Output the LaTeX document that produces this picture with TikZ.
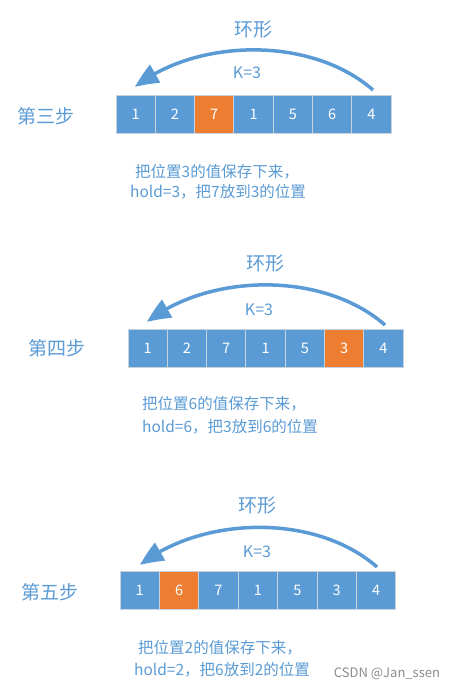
\documentclass[tikz,border=0pt]{standalone}
\usepackage{fontspec}
\setmainfont{Noto Sans CJK SC}
\usetikzlibrary{arrows.meta,bending}
\definecolor{cb}{HTML}{5B9BD5}
\definecolor{co}{HTML}{ED7D31}
\definecolor{tb}{HTML}{5B9BD5}
\definecolor{cellline}{HTML}{C8D2DC}
\definecolor{wm}{HTML}{8C8C8C}
\tikzset{
  cell/.style={draw=cellline, line width=0.9pt, minimum width=39.3pt, minimum height=38pt, inner sep=0pt, text=white, font=\fontsize{14.5pt}{17pt}\selectfont},
  steplabel/.style={text=tb, inner sep=0pt, font=\fontsize{19pt}{22pt}\selectfont},
  ringlabel/.style={text=tb, inner sep=0pt, font=\fontsize{19pt}{22pt}\selectfont},
  klabel/.style={text=tb, inner sep=0pt, font=\fontsize{16pt}{19pt}\selectfont},
  caption/.style={text=tb, inner sep=0pt, font=\fontsize{15.5pt}{18pt}\selectfont},
  ringarrow/.style={draw=cb, line width=3.5pt, -{Triangle[length=24pt,width=20pt,bend]}},
  watermark/.style={text=wm, inner sep=0pt, font=\fontsize{13pt}{15pt}\selectfont}
}
\begin{document}
\begin{tikzpicture}[x=1pt,y=-1pt]
\fill[white] (0,0) rectangle (457,690);
\useasboundingbox (0,0) rectangle (457,690);

% ---------- step 3 ----------
\node[steplabel] (l3) at (46,116) {第三步};
\node[ringlabel] (r3) at (253,29) {环形};
\node[klabel] (k3) at (247,73) {K=3};
\foreach \v/\c [count=\i] in {1/cb,2/cb,7/co,1/cb,5/cb,6/cb,4/cb}
  \node[cell, fill=\c] (a\i) at ({116+39.3*\i-19.65},114) {\v};
\coordinate (s3) at (373,90);
\coordinate (t3) at (135,87);
\draw[ringarrow] (s3) .. controls +(-63,-55) and +(60,-48) .. (t3);
\node[caption] (p3a) at (217,172) {把位置3的值保存下来，};
\node[caption] (p3b) at (218,192) {hold=3，把7放到3的位置};

% ---------- step 4 ----------
\node[steplabel] (l4) at (57,348) {第四步};
\node[ringlabel] (r4) at (265,263) {环形};
\node[klabel] (k4) at (259,310) {K=3};
\foreach \v/\c [count=\i] in {1/cb,2/cb,7/cb,1/cb,5/cb,3/co,4/cb}
  \node[cell, fill=\c] (b\i) at ({128+39.3*\i-19.65},348.5) {\v};
\coordinate (s4) at (385,325);
\coordinate (t4) at (147,322);
\draw[ringarrow] (s4) .. controls +(-63,-55) and +(60,-48) .. (t4);
\node[caption] (p4a) at (224,404) {把位置6的值保存下来，};
\node[caption] (p4b) at (230,427) {hold=6，把3放到6的位置};

% ---------- step 5 ----------
\node[steplabel] (l5) at (50,592) {第五步};
\node[ringlabel] (r5) at (257,505) {环形};
\node[klabel] (k5) at (257,552) {K=3};
\foreach \v/\c [count=\i] in {1/cb,6/co,7/cb,1/cb,5/cb,3/cb,4/cb}
  \node[cell, fill=\c] (c\i) at ({120+39.4*\i-19.7},590.5) {\v};
\coordinate (s5) at (377,567);
\coordinate (t5) at (140,565);
\draw[ringarrow] (s5) .. controls +(-63,-55) and +(60,-48) .. (t5);
\node[caption] (p5a) at (220,648) {把位置2的值保存下来，};
\node[caption] (p5b) at (222,670) {hold=2，把6放到2的位置};

\node[watermark] (wm) at (387,674) {CSDN @Jan\_ssen};
\end{tikzpicture}
\end{document}
